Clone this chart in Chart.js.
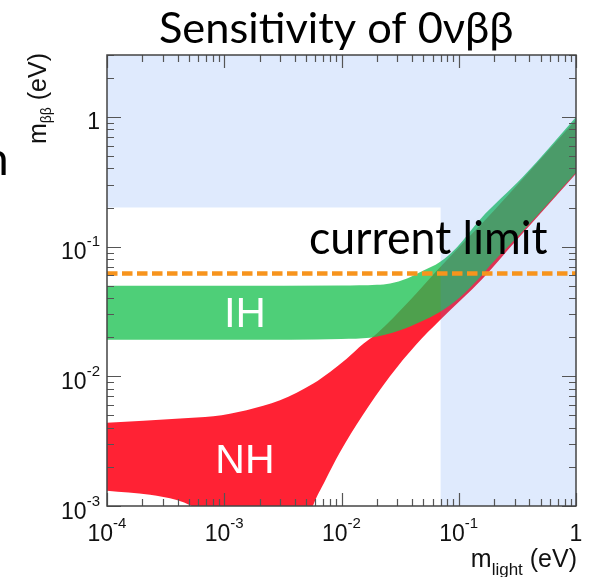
<!DOCTYPE html>
<html>
<head>
<meta charset="utf-8">
<script src="https://cdn.jsdelivr.net/npm/chart.js@4.4.1/dist/chart.umd.min.js"></script>
<style>
html, body { margin: 0; padding: 0; background: #fff; }
#wrap { width: 589px; height: 577px; }
</style>
</head>
<body>
<div id="wrap"><canvas id="myChart" width="589" height="577"></canvas></div>
<script>
// axis ranges (eV)
var xRange = [1e-4, 1];
var yRange = [1e-3, 3];

// tick labels: [base, exponent]
var xTickValues = [1e-4, 1e-3, 1e-2, 1e-1, 1];
var xTickLabels = [['10', '-4'], ['10', '-3'], ['10', '-2'], ['10', '-1'], ['1', '']];
var yTickValues = [1e-3, 1e-2, 1e-1, 1];
var yTickLabels = [['10', '-3'], ['10', '-2'], ['10', '-1'], ['1', '']];

// inverted hierarchy band
var ihUpperX = [1e-4, 1e-3, 0.01, 0.02, 0.026, 0.0362, 0.0495, 0.069, 0.0966, 0.152, 0.353, 1];
var ihUpperY = [0.050, 0.050, 0.0502, 0.0508, 0.052, 0.0568, 0.065, 0.076, 0.099, 0.162, 0.345, 1.0];
var ihLowerX = [1e-4, 3.64e-3, 0.01, 0.0175, 0.0316, 0.0468, 0.069, 0.1026, 0.152, 0.185, 0.356, 1];
var ihLowerY = [0.0191, 0.0191, 0.0194, 0.0198, 0.0226, 0.0262, 0.0313, 0.0407, 0.058, 0.0714, 0.133, 0.373];

// normal hierarchy band
var nhUpperX = [1e-4, 4.2e-4, 8.07e-4, 1.55e-3, 2.99e-3, 5.75e-3, 7.98e-3, 0.01107, 0.01535, 0.01995, 0.0384, 0.0652, 0.2, 1];
var nhUpperY = [0.00438, 0.00473, 0.00492, 0.00548, 0.00653, 0.00879, 0.0108, 0.01368, 0.01785, 0.0213, 0.0385, 0.0653, 0.19, 0.95];
var nhLowerX = [1e-4, 2.33e-4, 3.93e-4, 5.27e-4, 8e-4, 1.5e-3, 3e-3, 4.5e-3, 5.7e-3, 7.23e-3, 9.7e-3, 0.01496, 0.0259, 0.0432, 0.069, 0.161, 0.3, 1];
var nhLowerY = [0.00131, 0.00122, 0.00111, 0.001, 0.0008, 0.0004, 0.0003, 0.0005, 0.001, 0.00156, 0.0026, 0.00492, 0.0100, 0.0175, 0.027, 0.057, 0.108, 0.365];

// current limit and the excluded (blue) region
var limitValue = 0.062;
var excludedX = 0.07;
var excludedY = 0.2;

function pts(xs, ys) {
    var out = [];
    for (var i = 0; i < xs.length; i++) out.push({x: xs[i], y: ys[i]});
    return out;
}

var overlayPts = [
    {x: xRange[0], y: excludedY}, {x: excludedX, y: excludedY}, {x: excludedX, y: yRange[0]},
    {x: xRange[1], y: yRange[0]}, {x: xRange[1], y: yRange[1]}, {x: xRange[0], y: yRange[1]}
];

var SANS = '"Liberation Sans", Arial, sans-serif';
var SLIDE = 'Lato, "Noto Sans", sans-serif';

function fitText(ctx, txt, font, left, baseline, inkWidth) {
    ctx.font = font;
    ctx.textAlign = 'left';
    ctx.textBaseline = 'alphabetic';
    var m = ctx.measureText(txt);
    var w = m.actualBoundingBoxLeft + m.actualBoundingBoxRight;
    ctx.save();
    ctx.translate(left, baseline);
    ctx.scale(inkWidth / w, 1);
    ctx.fillText(txt, m.actualBoundingBoxLeft, 0);
    ctx.restore();
}

function supLabel(ctx, base, exp, x, y, align) {
    ctx.textAlign = 'left';
    ctx.font = '23px ' + SANS;
    var wb = ctx.measureText(base).width;
    ctx.font = '15px ' + SANS;
    var we = exp ? ctx.measureText(exp).width : 0;
    var start = align === 'center' ? x - (wb + we) / 2 : x - (wb + we);
    ctx.font = '23px ' + SANS;
    ctx.fillText(base, start, y);
    if (exp) {
        ctx.font = '15px ' + SANS;
        ctx.fillText(exp, start + wb, y - 13);
    }
}

var decor = {
    id: 'decor',
    afterDraw: function (chart) {
        var ctx = chart.ctx, a = chart.chartArea;
        var xs = chart.scales.x, ys = chart.scales.y;
        ctx.save();

        // ticks, ROOT style, inside the frame on all four sides
        ctx.strokeStyle = '#555';
        ctx.lineWidth = 1.2;
        ctx.beginPath();
        for (var e = -4; e <= 0; e++) {
            for (var k = 1; k < 10; k++) {
                var v = k * Math.pow(10, e);
                if (v < xRange[0] * 0.999 || v > xRange[1] * 1.001) continue;
                var px = Math.round(xs.getPixelForValue(v)) + 0.5;
                var len = k === 1 ? 13 : 7;
                ctx.moveTo(px, a.bottom); ctx.lineTo(px, a.bottom - len);
                ctx.moveTo(px, a.top); ctx.lineTo(px, a.top + len);
            }
        }
        for (var e2 = -3; e2 <= 0; e2++) {
            for (var k2 = 1; k2 < 10; k2++) {
                var v2 = k2 * Math.pow(10, e2);
                if (v2 < yRange[0] * 0.999 || v2 > yRange[1] * 1.001) continue;
                var py = Math.round(ys.getPixelForValue(v2)) + 0.5;
                var len2 = k2 === 1 ? 14 : 7;
                ctx.moveTo(a.left, py); ctx.lineTo(a.left + len2, py);
                ctx.moveTo(a.right, py); ctx.lineTo(a.right - len2, py);
            }
        }
        ctx.stroke();

        // frame
        ctx.strokeStyle = '#444';
        ctx.lineWidth = 1.5;
        ctx.strokeRect(a.left, a.top, a.right - a.left, a.bottom - a.top);

        // tick labels
        ctx.fillStyle = '#111';
        ctx.textBaseline = 'alphabetic';
        for (var i = 0; i < xTickValues.length; i++) {
            supLabel(ctx, xTickLabels[i][0], xTickLabels[i][1], xs.getPixelForValue(xTickValues[i]), a.bottom + 35, 'center');
        }
        for (var j = 0; j < yTickValues.length; j++) {
            supLabel(ctx, yTickLabels[j][0], yTickLabels[j][1], a.left - 7, ys.getPixelForValue(yTickValues[j]) + 12.5, 'right');
        }

        // x axis title
        ctx.textAlign = 'left';
        ctx.font = '25px ' + SANS;
        var wParen = ctx.measureText(' (eV)').width, wM = ctx.measureText('m').width;
        ctx.font = '17px ' + SANS;
        var wSub = ctx.measureText('light').width;
        var sx0 = a.right + 1 - wParen - wSub - wM;
        ctx.font = '25px ' + SANS;
        ctx.fillText('m', sx0, a.bottom + 61);
        ctx.fillText(' (eV)', sx0 + wM + wSub, a.bottom + 61);
        ctx.font = '17px ' + SANS;
        ctx.fillText('light', sx0 + wM, a.bottom + 69);

        // y axis title, rotated
        ctx.save();
        ctx.translate(46, a.top - 2);
        ctx.rotate(-Math.PI / 2);
        ctx.font = '25px ' + SANS;
        var yParen = ctx.measureText(' (eV)').width, yM = ctx.measureText('m').width;
        ctx.font = '14px ' + SANS;
        var ySub = ctx.measureText('\u03b2\u03b2').width;
        var st = -(yParen + ySub + yM);
        ctx.font = '25px ' + SANS;
        ctx.fillText('m', st, 0);
        ctx.fillText(' (eV)', st + yM + ySub, 0);
        ctx.font = '14px ' + SANS;
        ctx.fillText('\u03b2\u03b2', st + yM, 5);
        ctx.restore();

        // band labels
        ctx.fillStyle = '#fff';
        ctx.textAlign = 'center';
        ctx.font = '42px ' + SANS;
        ctx.fillText('IH', xs.getPixelForValue(1.5e-3), ys.getPixelForValue(0.0238));
        ctx.font = '41px ' + SANS;
        ctx.fillText('NH', xs.getPixelForValue(1.5e-3), ys.getPixelForValue(0.00179));

        // slide texts
        ctx.fillStyle = '#000';
        fitText(ctx, 'current limit', '46px ' + SLIDE, xs.getPixelForValue(5.38e-3), ys.getPixelForValue(0.0883), 238);
        fitText(ctx, 'Sensitivity of 0\u03bd\u03b2\u03b2', '42px ' + SLIDE, 160, 43, 352);
        ctx.font = '46px ' + SLIDE;
        ctx.textAlign = 'left';
        var mn = ctx.measureText('n');
        ctx.fillText('n', 6 - mn.actualBoundingBoxRight, 175);
        ctx.restore();
    }
};

function edge(label, data, color, fill, order) {
    return {
        label: label,
        data: data,
        backgroundColor: color,
        borderColor: 'rgba(0,0,0,0)',
        borderWidth: 0,
        pointRadius: 0,
        cubicInterpolationMode: 'monotone',
        capBezierPoints: false,
        fill: fill,
        order: order
    };
}

var ctx = document.getElementById('myChart').getContext('2d');
var chart = new Chart(ctx, {
    type: 'line',
    data: {
        datasets: [{
            label: 'current limit',
            data: [{x: xRange[0], y: limitValue}, {x: xRange[1], y: limitValue}],
            borderColor: 'rgb(247,148,29)',
            borderWidth: 4.5,
            borderDash: [10.5, 4.5],
            pointRadius: 0,
            fill: false,
            order: 0
        }, {
            label: 'excluded',
            data: overlayPts,
            backgroundColor: 'rgba(66,133,244,0.17)',
            borderColor: 'rgba(0,0,0,0)',
            borderWidth: 0,
            pointRadius: 0,
            fill: 'shape',
            order: 1
        },
        edge('IH upper', pts(ihUpperX, ihUpperY), 'rgba(30,194,84,0.79)', '+1', 2),
        edge('IH lower', pts(ihLowerX, ihLowerY), 'rgba(30,194,84,0.79)', false, 2),
        edge('NH upper', pts(nhUpperX, nhUpperY), 'rgb(255,34,52)', '+1', 3),
        edge('NH lower', pts(nhLowerX, nhLowerY), 'rgb(255,34,52)', false, 3)]
    },
    options: {
        responsive: false,
        animation: false,
        devicePixelRatio: 1,
        layout: {padding: {left: 107, top: 55, right: 13, bottom: 71}},
        plugins: {legend: {display: false}, tooltip: {enabled: false}},
        scales: {
            x: {type: 'logarithmic', min: xRange[0], max: xRange[1], display: false},
            y: {type: 'logarithmic', min: yRange[0], max: yRange[1], display: false}
        }
    },
    plugins: [decor]
});
</script>
</body>
</html>
